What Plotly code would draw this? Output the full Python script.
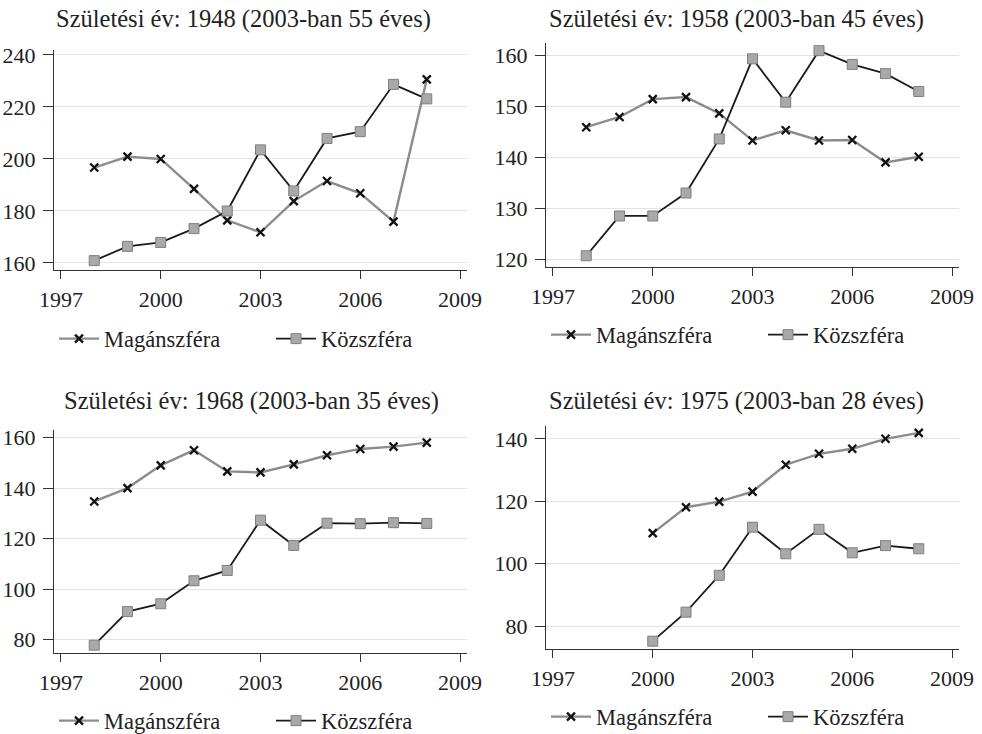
import plotly.graph_objects as go

years = [1998, 1999, 2000, 2001, 2002, 2003, 2004, 2005, 2006, 2007, 2008]
years_1975 = [2000, 2001, 2002, 2003, 2004, 2005, 2006, 2007, 2008]

titles = [
    "Születési év: 1948 (2003-ban 55 éves)",
    "Születési év: 1958 (2003-ban 45 éves)",
    "Születési év: 1968 (2003-ban 35 éves)",
    "Születési év: 1975 (2003-ban 28 éves)",
]
series_names = ["Magánszféra", "Közszféra"]

magan_1948 = [196.7, 200.9, 200.0, 188.5, 176.4, 171.8, 183.8, 191.5, 186.8, 175.9, 230.6]
kozsz_1948 = [160.9, 166.4, 167.9, 173.2, 180.0, 203.5, 187.7, 207.9, 210.5, 228.7, 223.1]

magan_1958 = [145.9, 147.9, 151.4, 151.8, 148.6, 143.3, 145.3, 143.3, 143.4, 139.0, 140.1]
kozsz_1958 = [120.7, 128.5, 128.5, 133.0, 143.6, 159.3, 150.8, 160.9, 158.2, 156.4, 152.9]

magan_1968 = [134.7, 140.0, 149.0, 155.0, 146.6, 146.2, 149.4, 153.0, 155.5, 156.4, 158.0]
kozsz_1968 = [77.8, 91.1, 94.2, 103.3, 107.4, 127.3, 117.3, 126.1, 125.9, 126.3, 126.0]

magan_1975 = [109.8, 118.1, 119.9, 123.1, 131.7, 135.2, 136.8, 140.0, 141.9]
kozsz_1975 = [75.2, 84.5, 96.3, 111.7, 103.2, 111.0, 103.5, 105.8, 104.8]

x_ticks = [1997, 2000, 2003, 2006, 2009]
y_ticks = [
    [160, 180, 200, 220, 240],
    [120, 130, 140, 150, 160],
    [80, 100, 120, 140, 160],
    [80, 100, 120, 140],
]

panels = [
    (years, magan_1948, kozsz_1948),
    (years, magan_1958, kozsz_1958),
    (years, magan_1968, kozsz_1968),
    (years_1975, magan_1975, kozsz_1975),
]

W, H = 982, 734
FONT = "'Liberation Serif', 'DejaVu Serif', serif"


def px(x):
    return x / W


def py(y):
    return 1 - y / H


# target pixel layout (left, right, top, bottom) for each panel
boxes = [
    (54, 467, 50, 270),
    (546, 959, 43, 267),
    (54, 467, 430, 653),
    (546, 959, 426, 649),
]
y_ranges = [(157.3, 241.9), (118.5, 162.4), (74.7, 163.0), (72.7, 144.1)]
title_pos = [(243, 19), (736, 19), (251, 401), (736, 401)]
legend_pos = [(54, 339), (546, 335), (54, 721), (546, 717)]

fig = go.Figure()
layout = dict(
    width=W, height=H,
    margin=dict(l=0, r=0, t=0, b=0, autoexpand=False),
    paper_bgcolor="white", plot_bgcolor="white",
    font=dict(family=FONT, size=22, color="#222222"),
    annotations=[],
)

for i, (xs, mag, koz) in enumerate(panels):
    n = "" if i == 0 else str(i + 1)
    xa, ya = "x" + n, "y" + n
    leg = "legend" + n
    fig.add_trace(go.Scatter(
        x=xs, y=mag, name=series_names[0], xaxis=xa, yaxis=ya, legend=leg,
        mode="lines+markers",
        line=dict(color="#8c8c8c", width=2.4),
        marker=dict(symbol="x-thin", size=8, line=dict(color="#111111", width=2.3), color="#111111"),
    ))
    fig.add_trace(go.Scatter(
        x=xs, y=koz, name=series_names[1], xaxis=xa, yaxis=ya, legend=leg,
        mode="lines+markers",
        line=dict(color="#1a1a1a", width=1.8),
        marker=dict(symbol="square", size=10, color="#a9a9a9", line=dict(color="#7f7f7f", width=1)),
    ))
    l, r, t, b = boxes[i]
    layout["xaxis" + n] = dict(
        domain=[px(l), px(r)], anchor=ya, range=[1996.79, 2009.21],
        tickvals=x_ticks, ticks="outside", ticklen=8, tickcolor="#333333",
        showline=True, linecolor="#333333", linewidth=1, showgrid=False,
        zeroline=False, ticklabelstandoff=2, tickfont=dict(size=22, family=FONT),
        automargin=False,
    )
    layout["yaxis" + n] = dict(
        domain=[py(b), py(t)], anchor=xa, range=list(y_ranges[i]),
        tickvals=y_ticks[i], ticks="outside", ticklen=10, tickcolor="#333333",
        showline=True, linecolor="#333333", linewidth=1,
        showgrid=True, gridcolor="#e3e3e3", gridwidth=1,
        zeroline=False, ticklabelstandoff=3, tickfont=dict(size=22, family=FONT),
        automargin=False,
    )
    lx, ly = legend_pos[i]
    layout[leg] = dict(
        x=px(lx), y=py(ly), xanchor="left", yanchor="middle",
        orientation="h", font=dict(size=22.5, family=FONT, color="#222222"),
        bgcolor="rgba(0,0,0,0)", itemwidth=40, tracegroupgap=0,
        entrywidth=162, entrywidthmode="pixels",
    )
    tx, ty = title_pos[i]
    layout["annotations"].append(dict(
        text=titles[i], x=px(tx), y=py(ty), xref="paper", yref="paper",
        xanchor="center", yanchor="middle", showarrow=False,
        font=dict(size=24.5, family=FONT, color="#222222"),
    ))

fig.update_layout(**layout)
fig.write_html(
    "out.html",
    config={"displayModeBar": False},
    post_script="document.body.style.margin='0';",
)
